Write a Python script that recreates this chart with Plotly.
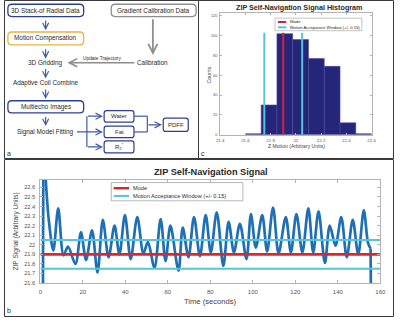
import plotly.graph_objects as go

W, H = 400, 320
FONT = "Liberation Sans, Arial, sans-serif"

# ---------------- data ----------------
# sharp rise at the start of the acquisition
rise_time = [1.1, 1.45]
rise_signal = [20.8, 23.2]
# oscillating navigation signal (peaks / troughs)
time_s = [1.45, 2.7, 4.0, 6.1, 8.4, 10.9, 13.0, 16.5, 19.1, 21.5, 24.3, 26.9, 29.4, 32.1,
          34.9, 37.2, 39.8, 42.5, 45.6, 48.5, 50.6, 53.7, 56.6, 58.9, 61.2, 65.0, 67.0,
          69.7, 72.3, 75.1, 77.8, 80.2, 83.0, 86.1, 88.6, 91.1, 93.9, 97.0, 99.1, 101.4,
          104.4, 106.7, 109.5, 112.1, 115.5, 117.9, 120.5, 123.3, 126.1, 128.4, 130.9,
          133.9, 136.2, 138.9, 141.6, 144.2, 147.0, 149.6, 152.2, 154.2, 155.4]
zip_signal = [23.2, 22.62, 22.25, 21.94, 22.38, 21.89, 21.98, 21.80, 22.13, 21.84, 22.15, 21.71,
              22.26, 21.87, 22.20, 21.90, 22.31, 21.85, 22.29, 21.91, 22.03, 21.76, 22.27, 21.83,
              22.20, 21.73, 22.18, 21.87, 22.29, 21.88, 22.31, 21.92, 22.34, 21.78, 22.24, 21.92,
              22.22, 21.85, 22.32, 21.97, 22.31, 21.93, 22.39, 21.91, 22.29, 21.92, 22.32, 21.92,
              22.38, 21.92, 22.35, 21.81, 22.20, 21.99, 22.29, 21.87, 22.26, 21.90, 22.36, 22.02,
              21.96]
# sharp drop at the end of the acquisition
drop_time = [155.4, 155.8]
drop_signal = [21.96, 20.8]

mode_value = 21.9
window_half = 0.15
time_range = [0, 160]

bin_edges = [21.6, 21.725, 21.85, 21.975, 22.1, 22.225, 22.35, 22.475, 22.6]
bin_counts = [1, 30, 102, 96, 77, 69, 12, 1]
hist_line_top = 103

b_xticks = [0, 20, 40, 60, 80, 100, 120, 140, 160]
b_yticks = [21.6, 21.7, 21.8, 21.9, 22.0, 22.1, 22.2, 22.3, 22.4, 22.5, 22.6]
b_yticklabels = ["21.6", "21.7", "21.8", "21.9", "22", "22.1", "22.2", "22.3", "22.4", "22.5", "22.6"]
c_xticks = [21.4, 21.6, 21.8, 22.0, 22.2, 22.4, 22.6]
c_xticklabels = ["21.4", "21.6", "21.8", "22", "22.2", "22.4", "22.6"]
c_yticks = [0, 20, 40, 60, 80, 100, 120]

legend_labels = ["Mode", "Motion Acceptance Window (+/- 0.15)"]

# ---------------- colours ----------------
SIG = "#1f6fb5"
RED = "#e3232c"
CYAN = "#55c4dc"
NAVY = "#25257a"
AX = "#b4b4b4"
TICKC = "#555555"
BLUEBOX = "#2c3f92"
ARROW = "#3e5aa6"
GRAY = "#8e8e8e"
ORANGE = "#e9b440"
TXT = "#2a2a2a"


def px(x):
    return x / W


def py(y):
    return 1 - y / H


fig = go.Figure()

# ---------- panel b : signal ----------
sig_line = dict(color=SIG, width=2.7)
fig.add_trace(go.Scatter(x=rise_time, y=rise_signal, mode="lines", line=sig_line,
                         xaxis="x", yaxis="y", showlegend=False, hoverinfo="skip"))
fig.add_trace(go.Scatter(x=time_s, y=zip_signal, mode="lines",
                         line=dict(sig_line, shape="spline", smoothing=0.9),
                         xaxis="x", yaxis="y", showlegend=False, hoverinfo="skip"))
fig.add_trace(go.Scatter(x=drop_time, y=drop_signal, mode="lines", line=sig_line,
                         xaxis="x", yaxis="y", showlegend=False, hoverinfo="skip"))
lo, hi = mode_value - window_half, mode_value + window_half
fig.add_trace(go.Scatter(x=[time_range[0], time_range[1], None, time_range[0], time_range[1]],
                         y=[hi, hi, None, lo, lo], mode="lines",
                         line=dict(color=CYAN, width=2), xaxis="x", yaxis="y",
                         showlegend=False, hoverinfo="skip"))
fig.add_trace(go.Scatter(x=time_range, y=[mode_value, mode_value], mode="lines",
                         line=dict(color=RED, width=2.6), xaxis="x", yaxis="y",
                         showlegend=False, hoverinfo="skip"))

# ---------- panel c : histogram ----------
centers = [(a + b) / 2 for a, b in zip(bin_edges[:-1], bin_edges[1:])]
widths = [b - a for a, b in zip(bin_edges[:-1], bin_edges[1:])]
fig.add_trace(go.Bar(x=centers, y=bin_counts, width=widths,
                     marker=dict(color=NAVY, line=dict(color="#4b4b98", width=0.6)),
                     xaxis="x2", yaxis="y2", showlegend=False, hoverinfo="skip"))
fig.add_trace(go.Scatter(x=[lo, lo, None, hi, hi], y=[0, hist_line_top, None, 0, hist_line_top],
                         mode="lines", line=dict(color=CYAN, width=2),
                         xaxis="x2", yaxis="y2", showlegend=False, hoverinfo="skip"))
fig.add_trace(go.Scatter(x=[mode_value, mode_value], y=[0, hist_line_top], mode="lines",
                         line=dict(color="#d4213a", width=2), xaxis="x2", yaxis="y2",
                         showlegend=False, hoverinfo="skip"))

axis_common = dict(showline=True, linecolor=AX, linewidth=1, mirror="ticks", ticks="inside",
                   tickcolor=AX, showgrid=False, zeroline=False, fixedrange=True)

fig.update_layout(
    width=W, height=H, margin=dict(l=0, r=0, t=0, b=0),
    paper_bgcolor="white", plot_bgcolor="white",
    font=dict(family=FONT, color=TXT),
    showlegend=False,
    xaxis=dict(domain=[px(37.3), px(386)], range=time_range, anchor="y",
               tickvals=b_xticks, ticklen=3, tickfont=dict(size=6, color=TICKC),
               ticklabelstandoff=3, **axis_common),
    yaxis=dict(domain=[py(285.7), py(181.5)], range=[21.6, 22.68], anchor="x",
               tickvals=b_yticks, ticktext=b_yticklabels, ticklen=3,
               tickfont=dict(size=5.7, color=TICKC), ticklabelstandoff=3, **axis_common),
    xaxis2=dict(domain=[px(221.7), px(377)], range=[21.4, 22.6], anchor="y2",
                tickvals=c_xticks, ticktext=c_xticklabels, ticklen=2,
                tickfont=dict(size=4.4, color=TICKC), ticklabelstandoff=1, **axis_common),
    yaxis2=dict(domain=[py(136), py(13.5)], range=[0, 122.5], anchor="x2",
                tickvals=c_yticks, ticklen=2, tickfont=dict(size=3.9, color=TICKC),
                ticklabelstandoff=1, **axis_common),
)

shapes = []
ann = []


def text(x, y, s, size, color=TXT, xanchor="center", angle=0, bold=False):
    ann.append(dict(x=px(x), y=py(y), xref="paper", yref="paper", text=("<b>%s</b>" % s) if bold else s,
                    showarrow=False, xanchor=xanchor, yanchor="middle", textangle=angle,
                    font=dict(size=size, color=color, family=FONT)))


def line(x0, y0, x1, y1, color, width):
    shapes.append(dict(type="line", xref="paper", yref="paper", x0=px(x0), y0=py(y0),
                       x1=px(x1), y1=py(y1), line=dict(color=color, width=width)))


def rect(x0, y0, x1, y1, color, width, fill="rgba(0,0,0,0)"):
    shapes.append(dict(type="rect", xref="paper", yref="paper", x0=px(x0), y0=py(y0),
                       x1=px(x1), y1=py(y1), line=dict(color=color, width=width), fillcolor=fill))


def rrect(x0, y0, x1, y1, r, color, width):
    p = (f"M {px(x0 + r)},{py(y0)} L {px(x1 - r)},{py(y0)} Q {px(x1)},{py(y0)} {px(x1)},{py(y0 + r)} "
         f"L {px(x1)},{py(y1 - r)} Q {px(x1)},{py(y1)} {px(x1 - r)},{py(y1)} "
         f"L {px(x0 + r)},{py(y1)} Q {px(x0)},{py(y1)} {px(x0)},{py(y1 - r)} "
         f"L {px(x0)},{py(y0 + r)} Q {px(x0)},{py(y0)} {px(x0 + r)},{py(y0)} Z")
    shapes.append(dict(type="path", xref="paper", yref="paper", path=p,
                       line=dict(color=color, width=width), fillcolor="white"))


def arrow(x0, y0, x1, y1, color, width, head=5, size=1.0):
    ann.append(dict(x=px(x1), y=py(y1), xref="paper", yref="paper", ax=x0 - x1, ay=y0 - y1,
                    axref="pixel", ayref="pixel", text="", showarrow=True, arrowhead=head,
                    arrowsize=size, arrowwidth=width, arrowcolor=color, standoff=0, startstandoff=0))


# ---------- panel a : flowchart ----------
rrect(4, 4.3, 81.7, 16.7, 4, BLUEBOX, 1.3)
text(42.8, 10.7, "3D Stack-of Radial Data", 6.4)
rrect(110, 4.3, 197, 16.7, 4, GRAY, 1.3)
text(153.5, 10.7, "Gradient Calibration Data", 6.4)
arrow(42.7, 19.3, 42.7, 30.5, ARROW, 1.2)
rrect(4, 32.3, 81.7, 45.3, 4, ORANGE, 1.3)
text(42.8, 38.8, "Motion Compensation", 6.4)
arrow(42.7, 48.3, 42.7, 59.3, ARROW, 1.2)
text(42.8, 63.3, "3D Gridding", 6.4)
arrow(152.7, 18.3, 152.7, 55.5, GRAY, 1.8)
text(152, 63.3, "Calibration", 6.4)
arrow(133.5, 63.3, 65, 63.3, GRAY, 1.6)
text(100, 59.3, "Update Trajectory", 4.8)
arrow(42.7, 68.3, 42.7, 79.3, ARROW, 1.2)
text(42.8, 83.5, "Adaptive Coil Combine", 6.4)
arrow(42.7, 89.0, 42.7, 100.0, ARROW, 1.2)
rrect(4, 101.7, 81.7, 114, 4, BLUEBOX, 1.3)
text(42.8, 107.8, "Multiecho Images", 6.4)
arrow(42.7, 116.7, 42.7, 127.3, ARROW, 1.2)
text(43, 132.8, "Signal Model Fitting", 6.4)
line(85, 117.3, 85, 148.3, ARROW, 1.2)
arrow(74, 133.2, 101.5, 133.2, ARROW, 1.2)
arrow(85, 117.3, 101.5, 117.3, ARROW, 1.2)
arrow(85, 148.3, 101.5, 148.3, ARROW, 1.2)
rrect(102.7, 111.7, 133.3, 123.3, 2.5, BLUEBOX, 1.2)
text(118, 117.5, "Water", 6)
rrect(102.7, 127.3, 133.3, 139, 2.5, BLUEBOX, 1.2)
text(118, 133.2, "Fat", 6)
rrect(102.7, 142.3, 133.3, 154.3, 2.5, BLUEBOX, 1.2)
text(118, 148.3, "R<sub>2</sub><sup>*</sup>", 6)
line(133.3, 117.3, 147, 117.3, ARROW, 1.2)
line(133.3, 133.2, 147, 133.2, ARROW, 1.2)
line(147, 117.3, 147, 133.2, ARROW, 1.2)
arrow(147, 126, 162, 126, ARROW, 1.2)
rrect(163.3, 119.3, 189, 132.7, 2.5, BLUEBOX, 1.2)
text(176.2, 126, "PDFF", 6)
text(5, 155, "a", 7, xanchor="center")

# ---------- panel c texts & legend ----------
text(303, 8, "ZIP Self-Navigation Signal Histogram", 7.2, bold=True)
text(299.5, 147, "Z Motion (Arbitrary Units)", 5.1, color="#444")
text(210.5, 76, "Counts", 5.3, color="#444", angle=-90)
text(204.5, 155, "c", 7)
rect(278, 18.3, 367, 31, "#9a9a9a", 0.6, fill="white")
line(281, 22.2, 289.5, 22.2, "#d4213a", 2)
line(281, 27.6, 289.5, 27.6, CYAN, 2)
text(290.8, 22.2, legend_labels[0], 4.2, xanchor="left")
text(290.8, 27.6, legend_labels[1], 4.2, xanchor="left")

# ---------- panel b texts & legend ----------
text(212, 173.5, "ZIP Self-Navigation Signal", 9.2, bold=True)
text(212, 304.5, "Time (seconds)", 7.6, color="#444")
text(12, 234, "ZIP Signal (Arbitrary Units)", 6.6, color="#444", angle=-90)
text(5.5, 313, "b", 7)
rect(110, 184.3, 245, 202.7, "#9a9a9a", 0.7, fill="white")
line(112.5, 190, 128.3, 190, RED, 2.4)
line(112.5, 197.8, 128.3, 197.8, CYAN, 2)
text(130.3, 190, legend_labels[0], 5.6, xanchor="left")
text(130.3, 197.8, legend_labels[1], 5.6, xanchor="left")

# ---------- panel borders ----------
rect(0.5, 0.5, 199.5, 160, "#3a3a3a", 1)
rect(199.5, 0.5, 399.5, 160, "#3a3a3a", 1)
rect(0.5, 161, 399.5, 319.5, "#3a3a3a", 1)

fig.update_layout(shapes=shapes, annotations=ann)
fig.write_html("out.html", config={"displayModeBar": False, "staticPlot": True},
               post_script="document.body.style.margin='0';document.body.style.overflow='hidden';")
